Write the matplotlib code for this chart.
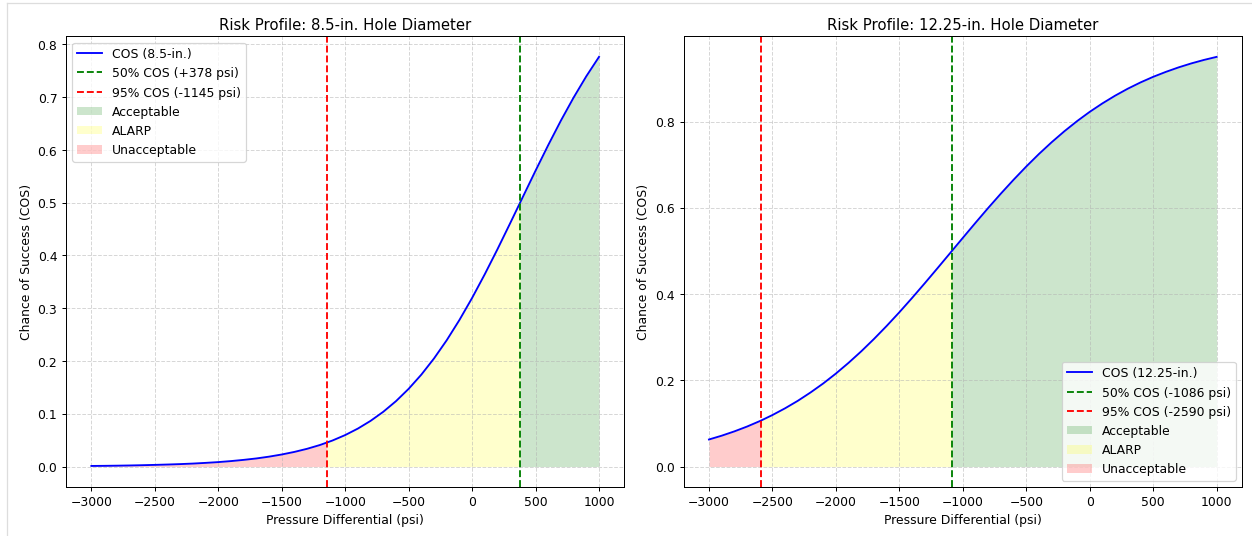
import matplotlib
matplotlib.use("Agg")
import matplotlib.pyplot as plt
from matplotlib.lines import Line2D
import numpy as np

# Curva 8.5-in.
x_85 = [-3000, -2900, -2800, -2700, -2600, -2500, -2400, -2300, -2200, -2100,
        -2000, -1900, -1800, -1700, -1600, -1500, -1400, -1300, -1200, -1145,
        -1100, -1000, -900, -800, -700, -600, -500, -400, -300, -200, -100,
        0, 100, 200, 300, 378, 400, 500, 600, 700, 800, 900, 1000]
cos_85 = [0.0012, 0.0014, 0.0017, 0.0021, 0.0026, 0.0032, 0.0039, 0.0047, 0.0057, 0.0070,
          0.0085, 0.0104, 0.0127, 0.0154, 0.0188, 0.0229, 0.0278, 0.0337, 0.0408, 0.0455,
          0.0494, 0.0597, 0.0720, 0.0866, 0.1038, 0.1239, 0.1473, 0.1742, 0.2049, 0.2394, 0.2777,
          0.3195, 0.3645, 0.4119, 0.4611, 0.5000, 0.5110, 0.5607, 0.6092, 0.6557, 0.6993, 0.7396, 0.7763]
p50_85 = 378
p95_85 = -1145

# Curva 12.25-in.
x_1225 = [-3000, -2900, -2800, -2700, -2600, -2590, -2500, -2400, -2300, -2200, -2100,
          -2000, -1900, -1800, -1700, -1600, -1500, -1400, -1300, -1200, -1100, -1086,
          -1000, -900, -800, -700, -600, -500, -400, -300, -200, -100,
          0, 100, 200, 300, 400, 500, 600, 700, 800, 900, 1000]
cos_1225 = [0.0628, 0.0716, 0.0816, 0.0928, 0.1054, 0.1067, 0.1195, 0.1352, 0.1525, 0.1718, 0.1927,
            0.2157, 0.2406, 0.2673, 0.2959, 0.3261, 0.3578, 0.3909, 0.4250, 0.4598, 0.4950, 0.5000,
            0.5303, 0.5653, 0.5997, 0.6330, 0.6651, 0.6958, 0.7249, 0.7521, 0.7775, 0.8010,
            0.8226, 0.8422, 0.8601, 0.8763, 0.8908, 0.9038, 0.9153, 0.9257, 0.9349, 0.9430, 0.9501]
p50_1225 = -1086
p95_1225 = -2590


def plot_risk(ax, x, cos, p50, p95, size, loc):
    x = np.array(x)
    cos = np.array(cos)
    ax.plot(x, cos, color="blue", linewidth=1.5, label=f"COS ({size}-in.)")
    ax.axvline(p50, color="green", linestyle="--", linewidth=1.5,
               label=f"50% COS ({p50:+d} psi)")
    ax.axvline(p95, color="red", linestyle="--", linewidth=1.5,
               label=f"95% COS ({p95:+d} psi)")
    ax.fill_between(x, 0, cos, where=x >= p50, color="green", alpha=0.2,
                    label="Acceptable", linewidth=0)
    ax.fill_between(x, 0, cos, where=(x >= p95) & (x <= p50), color="yellow",
                    alpha=0.2, label="ALARP", linewidth=0)
    ax.fill_between(x, 0, cos, where=x <= p95, color="red", alpha=0.2,
                    label="Unacceptable", linewidth=0)
    ax.set_title(f"Risk Profile: {size}-in. Hole Diameter")
    ax.set_xlabel("Pressure Differential (psi)")
    ax.set_ylabel("Chance of Success (COS)")
    ax.grid(True, linestyle="--", alpha=0.5)
    ax.legend(loc=loc)


# figura 14x6 reduzida para 1252x537
fig, axes = plt.subplots(1, 2, figsize=(14, 6), dpi=89.43)
plot_risk(axes[0], x_85, cos_85, p50_85, p95_85, "8.5", "upper left")
plot_risk(axes[1], x_1225, cos_1225, p50_1225, p95_1225, "12.25", "lower right")
fig.subplots_adjust(left=0.0527, right=0.992, bottom=0.0912, top=0.9311, wspace=0.106)

# moldura cinza clara da captura de tela
fig.add_artist(Line2D([7 / 1252, 7 / 1252], [0, 1 - 4 / 537], transform=fig.transFigure,
                      color="#dddddd", linewidth=1))
fig.add_artist(Line2D([7 / 1252, 1], [1 - 4 / 537, 1 - 4 / 537], transform=fig.transFigure,
                      color="#dddddd", linewidth=1))
plt.savefig("out.png", dpi=89.43)
